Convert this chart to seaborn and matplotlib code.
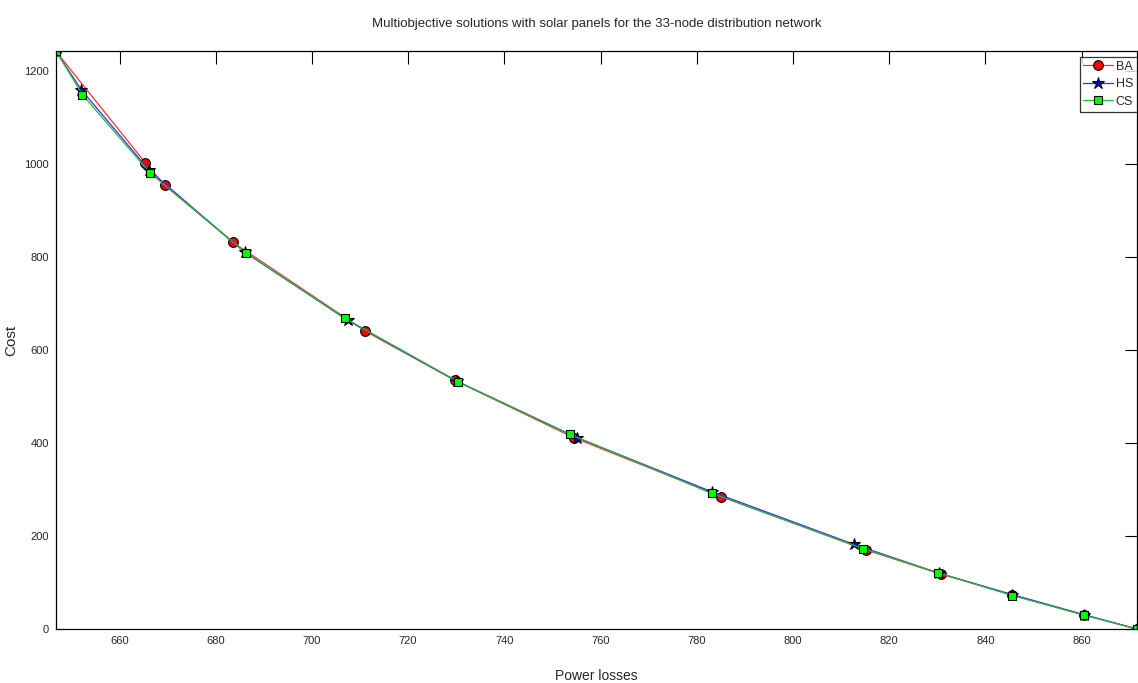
import matplotlib
matplotlib.use("Agg")
import matplotlib.pyplot as plt
import seaborn as sns

# ---- data ----
ba_loss = [646.8, 665.4, 669.4, 683.6, 711.1, 729.7, 754.4, 785.1, 815.2, 830.8, 845.6, 860.5, 871.5]
ba_cost = [1243, 1003, 955, 832, 641, 535, 412, 285, 170, 118, 73, 30, 0]

hs_loss = [646.8, 652.1, 666.2, 686.0, 707.5, 730.2, 755.1, 783.2, 812.7, 830.4, 845.6, 860.5, 871.5]
hs_cost = [1243, 1160, 987, 811, 664, 533, 412, 295, 182, 120, 74, 31, 0]

cs_loss = [646.8, 652.3, 666.4, 686.3, 706.8, 730.4, 753.6, 783.1, 814.6, 830.2, 845.6, 860.5, 871.5]
cs_cost = [1244, 1150, 981, 810, 669, 532, 419, 292, 173, 121, 72, 30, 0]

x_ticks = [660, 680, 700, 720, 740, 760, 780, 800, 820, 840, 860]
y_ticks = [0, 200, 400, 600, 800, 1000, 1200]

title = "Multiobjective solutions with solar panels for the 33-node distribution network"

sns.set_theme(style="white")
plt.rcParams["font.family"] = ["Liberation Sans", "DejaVu Sans"]

fig = plt.figure(figsize=(11.38, 6.83), dpi=100)
ax = fig.add_axes([56 / 1138, 1 - 629 / 683, (1137 - 56) / 1138, (629 - 51) / 683])

series = [
    (ba_loss, ba_cost, "BA", "o", "#ff3030", "red", 7),
    (hs_loss, hs_cost, "HS", "*", "#3030ff", "blue", 9),
    (cs_loss, cs_cost, "CS", "s", "#22bb33", "#00ff00", 6),
]
for xs, ys, lab, mk, lc, fc, ms in series:
    sns.lineplot(x=xs, y=ys, sort=False, ax=ax, label=lab, color=lc,
                 marker=mk, markersize=ms, markerfacecolor=fc,
                 markeredgecolor="black", markeredgewidth=0.8, linewidth=0.9)

ax.set_xlim(646.8, 871.5)
ax.set_ylim(0, 1244)
ax.set_xticks(x_ticks)
ax.set_yticks(y_ticks)
ax.tick_params(direction="in", length=9, width=0.8, top=True, right=True,
               labelsize=8, color="black", pad=5)
for s in ax.spines.values():
    s.set_color("black")
    s.set_linewidth(0.9)

ax.set_title(title, fontsize=9.5, pad=17)
ax.set_xlabel("Power losses", fontsize=10)
ax.set_ylabel("Cost", fontsize=11)
ax.xaxis.set_label_coords(0.5, -0.069)
ax.yaxis.set_label_coords(-0.035, 0.5)

leg = ax.legend(loc="upper right", fontsize=9, frameon=True, fancybox=False,
                edgecolor="black", borderaxespad=0.0, handlelength=2.4,
                borderpad=0.3, labelspacing=0.45, handletextpad=0.2,
                bbox_to_anchor=(1.0, 0.99))
leg.get_frame().set_linewidth(0.9)

fig.savefig("out.png", dpi=100)
